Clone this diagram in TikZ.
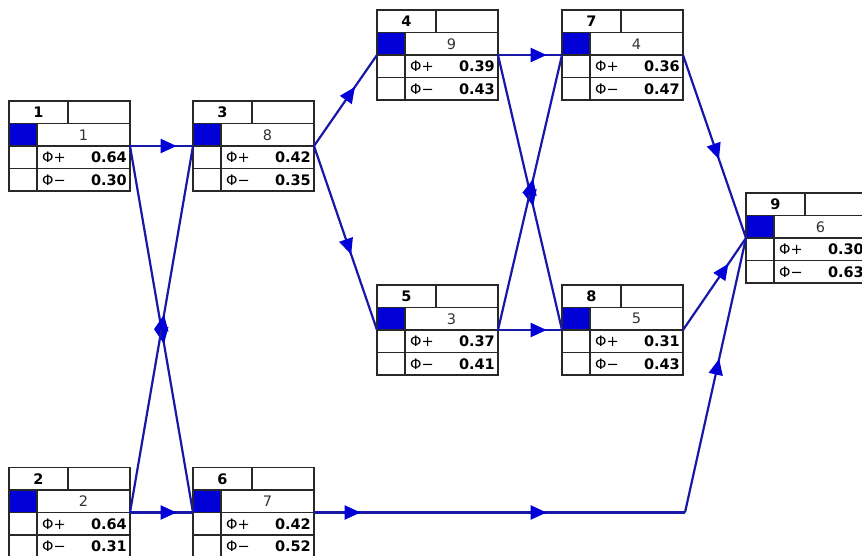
\documentclass[tikz,border=0pt]{standalone}
\usepackage{fontspec}
\setmainfont{DejaVu Sans}
\usetikzlibrary{calc,arrows.meta,decorations.markings}
\definecolor{boxblue}{RGB}{0,0,215}
\definecolor{linkblue}{RGB}{24,24,168}
\definecolor{gridgray}{RGB}{40,40,40}

\tikzset{
  actbox/.style={draw=gridgray,line width=1.2pt,fill=white,minimum width=121pt,minimum height=90pt,inner sep=0pt,outer sep=0pt,anchor=north west},
  cell/.style={draw=gridgray,line width=1.2pt},
  link/.style={draw=linkblue,line width=2.2pt},
  arr/.style={postaction={decorate},decoration={markings,mark=at position #1 with {\arrow[boxblue]{Triangle[length=16pt,width=14pt]}}}},
  idtext/.style={inner sep=0pt,font=\fontsize{14.5}{16}\selectfont\bfseries},
  numtext/.style={inner sep=0pt,text=black!80,font=\fontsize{14.5}{16}\selectfont},
  phitext/.style={inner sep=0pt,anchor=west,font=\fontsize{14.5}{16}\selectfont},
  valtext/.style={inner sep=0pt,anchor=east,font=\fontsize{14.5}{16}\selectfont\bfseries}
}

\newcommand{\actbox}[6]{%
\node[actbox] (#1) at (#2) {};
\fill[boxblue] ($(#1.north west)+(0,22.5)$) rectangle ($(#1.north west)+(28,45)$);
\draw[cell] ($(#1.north west)+(0,22.5)$) -- ($(#1.north east)+(0,22.5)$);
\draw[cell] (#1.west) -- (#1.east);
\draw[cell] ($(#1.south west)+(0,-22.5)$) -- ($(#1.south east)+(0,-22.5)$);
\draw[cell] ($(#1.north west)+(59,0)$) -- ($(#1.north west)+(59,22.5)$);
\draw[cell] ($(#1.north west)+(28,22.5)$) -- ($(#1.south west)+(28,0)$);
\draw[cell] (#1.north west) rectangle (#1.south east);
\node[idtext] (#1id) at ($(#1.north west)+(29.5,11.25)$) {#3};
\node[numtext] (#1num) at ($(#1.north west)+(74.5,33.75)$) {#4};
\node[phitext] (#1p) at ($(#1.north west)+(33,56.25)$) {Φ+};
\node[valtext] (#1pv) at ($(#1.north west)+(118,56.25)$) {#5};
\node[phitext] (#1m) at ($(#1.north west)+(33,78.75)$) {Φ−};
\node[valtext] (#1mv) at ($(#1.north west)+(118,78.75)$) {#6};
}

\begin{document}
\begin{tikzpicture}[x=1pt,y=-1pt]
\path[fill=white,use as bounding box] (0,0) rectangle (862,555);

\actbox{n1}{9,101}{1}{1}{0.64}{0.30}
\actbox{n2}{9,467.5}{2}{2}{0.64}{0.31}
\actbox{n3}{193,101}{3}{8}{0.42}{0.35}
\actbox{n6}{193,467.5}{6}{7}{0.42}{0.52}
\actbox{n4}{377,10}{4}{9}{0.39}{0.43}
\actbox{n5}{377,285}{5}{3}{0.37}{0.41}
\actbox{n7}{562,10}{7}{4}{0.36}{0.47}
\actbox{n8}{562,285}{8}{5}{0.31}{0.43}
\actbox{n9}{746,193}{9}{6}{0.30}{0.63}

\coordinate (d3a) at (n6.east -| n5.west);
\coordinate (d3b) at (n6.east -| n5.east);
\coordinate (d4a) at (n6.east -| n8.west);
\coordinate (d4b) at ($(n6.east -| n8.east)+(2,0)$);

\draw[link,arr=0.74] (n1.east) -- (n3.west);
\draw[link,arr=0.54] (n1.east) -- (n6.west);
\draw[link,arr=0.54] (n2.east) -- (n3.west);
\draw[link,arr=0.74] (n2.east) -- (n6.west);
\draw[link,arr=0.65] (n3.east) -- (n4.west);
\draw[link,arr=0.59] (n3.east) -- (n5.west);
\draw[link,arr=0.76] (n4.east) -- (n7.west);
\draw[link,arr=0.55] (n4.east) -- (n8.west);
\draw[link,arr=0.55] (n5.east) -- (n7.west);
\draw[link,arr=0.76] (n5.east) -- (n8.west);
\draw[link,arr=0.57] (n7.east) -- (n9.west);
\draw[link,arr=0.72] (n8.east) -- (n9.west);
\draw[link,arr=0.74] (n6.east) -- (d3a);
\draw[link] (d3a) -- (d3b);
\draw[link,arr=0.76] (d3b) -- (d4a);
\draw[link] (d4a) -- (d4b);
\draw[link,arr=0.56] (d4b) -- (n9.west);
\end{tikzpicture}
\end{document}
